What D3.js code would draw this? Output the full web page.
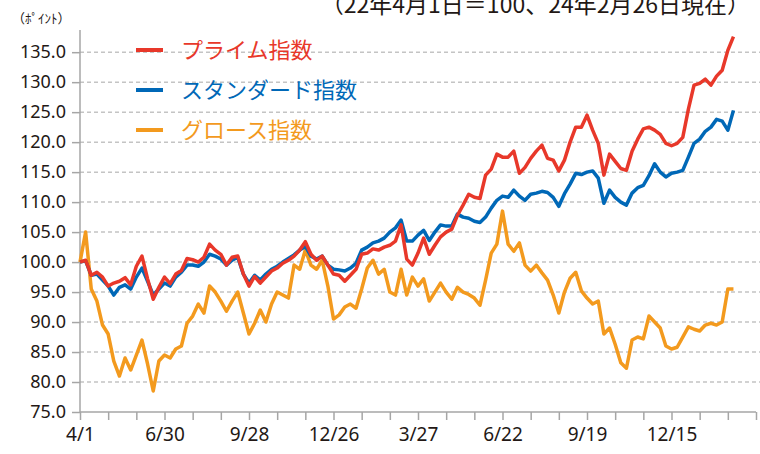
<!DOCTYPE html>
<html>
<head>
<meta charset="utf-8">
<script src="https://cdn.jsdelivr.net/npm/d3@7"></script>
<style>
body{margin:0;background:#fff;}
text{font-family:"Noto Sans CJK JP","Noto Sans",sans-serif;}
</style>
</head>
<body>
<svg id="svg" width="760" height="454"></svg>
<script>
// samples every 4 trading days from 2022/4/1 (=100)
const stepDays=4;
const prime=[100.0,100.3,97.8,98.3,97.5,96.0,96.5,96.8,97.4,96.2,99.3,101.0,97.2,93.8,95.8,97.5,96.4,98.0,98.6,100.6,
100.4,100.0,100.8,103.0,102.0,101.3,99.5,100.8,101.0,98.0,96.0,97.6,96.5,97.5,98.5,99.0,99.8,100.3,101.0,102.0,
103.4,101.3,100.3,101.0,99.5,98.0,97.8,96.8,97.8,98.8,101.3,101.5,102.2,102.0,102.5,102.8,103.5,106.2,100.5,99.5,
101.5,104.0,101.3,102.8,104.2,105.0,105.5,107.8,109.5,111.3,110.8,110.6,114.5,115.5,118.0,117.5,117.5,118.5,114.8,115.8,
117.3,118.5,119.5,117.3,117.0,115.2,117.0,120.0,122.5,122.5,124.5,122.0,119.8,114.5,118.0,116.8,115.6,115.3,118.5,120.5,
122.2,122.5,122.0,121.3,119.8,119.4,119.8,120.8,125.5,129.5,129.8,130.5,129.5,131.0,132.0,135.3,137.6];
const standard=[100.0,100.2,97.8,98.0,97.0,96.0,94.5,95.8,96.2,95.5,97.5,99.0,96.8,94.5,95.5,96.5,96.0,97.5,98.3,99.5,
99.5,99.3,100.0,101.3,101.0,100.5,99.5,100.3,100.8,98.0,96.5,97.8,97.0,98.0,98.8,99.3,100.0,100.6,101.2,102.0,
102.6,101.0,100.5,101.0,99.5,98.8,98.7,98.5,99.0,99.8,102.0,102.5,103.2,103.5,104.0,105.0,105.7,107.0,103.5,103.5,
104.5,105.3,103.6,105.0,106.2,106.0,106.0,108.0,107.5,107.3,106.8,106.6,107.5,109.0,110.3,111.0,110.8,112.0,111.0,110.3,
111.3,111.5,111.8,111.6,110.8,109.3,111.4,113.0,114.8,114.6,115.0,115.2,114.0,109.8,112.0,110.8,110.0,109.5,111.5,112.4,
112.8,114.4,116.4,115.0,114.2,114.8,115.0,115.3,117.5,119.8,120.5,121.8,122.5,123.8,123.5,122.0,125.3];
const growth=[100.0,105.0,95.5,93.5,89.5,88.0,83.5,81.0,84.0,82.0,84.5,87.0,83.0,78.5,83.5,84.5,84.0,85.5,86.0,89.8,
91.0,93.0,91.5,96.0,95.0,93.5,91.8,93.5,95.0,91.5,88.0,89.8,92.0,90.0,93.0,95.0,94.5,94.0,99.5,98.8,
102.0,99.5,98.8,100.3,96.0,90.5,91.2,92.5,93.0,92.3,95.5,99.0,100.3,98.0,98.8,95.0,94.5,98.8,94.5,97.5,
96.0,97.2,93.5,95.0,96.5,95.0,93.8,95.8,95.0,94.6,94.0,92.8,97.0,101.5,103.0,108.5,103.0,101.8,103.2,99.5,
98.5,99.5,98.2,97.0,94.5,91.5,95.0,97.3,98.3,95.2,94.0,93.0,93.5,88.0,89.0,86.3,83.2,82.3,87.0,87.5,
87.2,91.0,90.0,89.0,86.0,85.5,85.8,87.5,89.2,88.8,88.5,89.5,89.8,89.5,90.0,95.5,95.5];

const xLabels=["4/1","6/30","9/28","12/26","3/27","6/22","9/19","12/15"];
const yTicks=[75,80,85,90,95,100,105,110,115,120,125,130,135];
const seriesNames=["プライム指数","スタンダード指数","グロース指数"];
const seriesColors=["#E8382A","#0068B7","#F39A1E"];

const svg=d3.select("#svg");
const x=d3.scaleLinear().domain([0,480]).range([80,756]);
const y=d3.scaleLinear().domain([75,138.7]).range([412,30]);

// grid
svg.append("g").selectAll("line").data(yTicks.filter(d=>d>75)).join("line")
    .attr("x1",80).attr("x2",760).attr("y1",d=>y(d)).attr("y2",d=>y(d))
    .attr("stroke","#C4C4C4").attr("stroke-width",1.5).attr("stroke-dasharray","4,3");

// y axis
const yAxis=d3.axisLeft(y).tickValues(yTicks).tickFormat(d3.format(".1f")).tickSize(8).tickPadding(6);
const gy=svg.append("g").attr("transform","translate(80,0)").call(yAxis);
gy.select(".domain").attr("stroke","#A6A6A6").attr("stroke-width",1.5).attr("d","M0,30V412");
gy.selectAll(".tick line").attr("stroke","#A6A6A6").attr("stroke-width",1.5);
gy.selectAll(".tick text").style("font-size","18px").attr("fill","#231815").style("font-family","'Noto Sans',sans-serif");

// x axis, tick every 20 days, label every 60
const xt=d3.range(0,481,20);
const xAxis=d3.axisBottom(x).tickValues(xt).tickSize(8).tickPadding(8)
    .tickFormat(d=>d%60===0?xLabels[d/60]||"":"");
const gx=svg.append("g").attr("transform","translate(0,412)").call(xAxis);
gx.select(".domain").attr("stroke","#A6A6A6").attr("stroke-width",1.5).attr("d","M80,0H756");
gx.selectAll(".tick line").attr("stroke","#A6A6A6").attr("stroke-width",1.5);
gx.selectAll(".tick text").style("font-size","19px").attr("fill","#231815").style("font-family","'Noto Sans',sans-serif");

// lines
const line=d3.line().x((d,i)=>x(i*stepDays)).y(d=>y(d));
const data=[growth,standard,prime];
const cols=[seriesColors[2],seriesColors[1],seriesColors[0]];
data.forEach((s,i)=>{
    svg.append("path").attr("d",line(s)).attr("fill","none").attr("stroke",cols[i])
        .attr("stroke-width",3.5).attr("stroke-linejoin","round");
});

// legend
seriesNames.forEach((n,i)=>{
    const ly=50+i*40;
    svg.append("line").attr("x1",136).attr("x2",163).attr("y1",ly).attr("y2",ly)
        .attr("stroke",seriesColors[i]).attr("stroke-width",4);
    svg.append("text").attr("x",181).attr("y",ly+8).style("font-size","22px").attr("fill",seriesColors[i]).text(n);
});

// titles
svg.append("text").attr("x",750).attr("y",13).attr("text-anchor","end").style("font-size","23px").attr("fill","#231815")
    .text("（22年4月1日＝100、24年2月26日現在）");
svg.append("text").attr("x",12).attr("y",23).style("font-size","13px").attr("fill","#231815").text("（ﾎﾟｲﾝﾄ）");
</script>
</body>
</html>
